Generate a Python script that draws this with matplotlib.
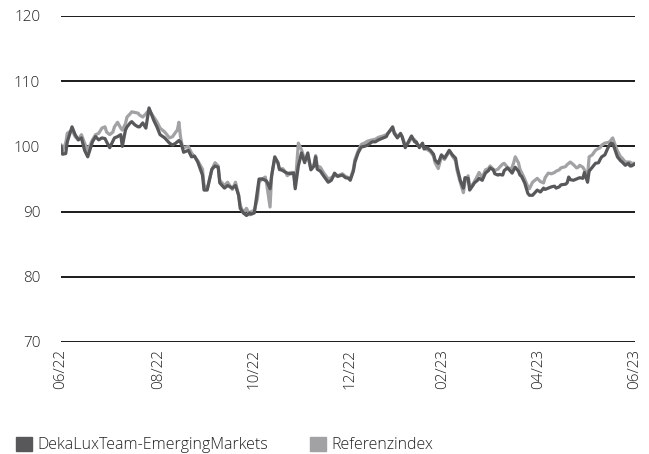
import matplotlib
matplotlib.use("Agg")
import matplotlib.pyplot as plt
from matplotlib.patches import Patch
import pandas as pd

# Tage seit dem 30.06.2022 und Werte (Start = 100)
days = [0, 1, 3, 4, 7, 9, 11, 13, 15, 17, 20, 22, 24, 26, 28, 29, 31, 33, 34, 36,
        38, 39, 41, 42, 44, 45, 47, 49, 50, 52, 54, 56, 59, 61, 63, 66, 69, 71, 73, 74,
        75, 76, 77, 78, 81, 83, 85, 87, 90, 91, 93, 96, 98, 100, 101, 104, 106, 109, 111, 113,
        114, 116, 118, 120, 121, 123, 125, 126, 128, 130, 131, 133, 134, 136, 138, 139, 141, 143, 144, 146,
        148, 149, 151, 153, 155, 157, 159, 161, 162, 163, 165, 167, 170, 172, 174, 176, 179, 181, 183, 184,
        186, 187, 189, 191, 193, 195, 198, 200, 202, 205, 207, 208, 211, 212, 214, 216, 217, 219, 221, 223,
        225, 226, 228, 230, 231, 233, 235, 237, 238, 240, 242, 244, 246, 247, 249, 251, 252, 254, 256, 257,
        259, 260, 262, 263, 265, 266, 268, 270, 272, 273, 275, 276, 278, 279, 281, 282, 284, 286, 287, 288,
        289, 291, 292, 293, 295, 297, 298, 300, 303, 305, 307, 308, 310, 312, 314, 315, 317, 318, 321, 322,
        323, 324, 326, 328, 329, 330, 332, 333, 335, 336, 338, 340, 342, 343, 344, 346, 348, 349, 350, 351,
        352, 354, 356, 357, 359, 361, 362, 363, 365]

fonds = [100, 98.8, 98.9, 100.7, 103, 101.8, 101, 101.3, 99.4, 98.4, 100.7, 101.5, 101, 101.3, 101.2, 100.7, 99.8, 100.8, 101.3, 101.5,
         101.8, 100, 102.5, 103, 103.6, 103.8, 103.3, 103, 103, 103.6, 102.8, 105.9, 104, 103, 101.8, 101.3, 100.5, 100.2, 100.5, 100.7,
         100.9, 100.7, 100, 99.1, 99.4, 98.4, 98.5, 97.6, 95.6, 93.3, 93.3, 96.5, 97, 96.8, 94.4, 93.6, 94, 93.6, 94, 92.5,
         90.5, 89.8, 89.4, 89.8, 89.6, 89.8, 93.3, 95, 95, 94.8, 94.6, 93.5, 95.5, 98.4, 97.5, 96.5, 96.3, 96, 95.9, 95.8,
         95.9, 93.5, 97, 99, 97.5, 99, 96.4, 97, 98.4, 96.5, 96.2, 95.5, 94.5, 94.8, 95.9, 95.4, 95.6, 95.2, 95.1, 94.8,
         96.2, 97.6, 99, 99.9, 100, 100.2, 100.7, 100.7, 101, 101.3, 101.5, 102, 103, 102, 101.3, 102, 101.5, 99.8, 100.7, 101.6,
         100.7, 100.7, 99.8, 100.5, 99.6, 99.8, 99.4, 98.8, 97.9, 97.4, 98.7, 98.2, 99, 99.4, 98.7, 98.2, 96.8, 94.8, 93.6, 95.2,
         95.1, 93.3, 94, 94.4, 94.8, 95.1, 94.8, 95.9, 96.3, 96.7, 96.4, 95.8, 95.6, 95.7, 95.6, 96.3, 96.7, 96.2, 95.9, 96.4,
         96.8, 96.2, 95.6, 95.4, 94.4, 92.8, 92.5, 92.5, 93.3, 93, 93.6, 93.4, 93.6, 93.8, 93.9, 93.6, 93.8, 94.1, 94.2, 94.4,
         95.3, 94.9, 94.8, 95, 95.1, 95.2, 95.1, 96, 94.5, 96.2, 96.8, 97.4, 97.5, 98, 98.4, 98.7, 99.8, 100.2, 100.5, 100.4,
         99.8, 98.4, 97.8, 97.6, 97.1, 97.4, 97, 97, 97.3]

referenz = [100.2, 99.5, 100.5, 102, 102.5, 101.5, 101, 101.8, 100.5, 99.4, 101, 101.8, 102, 102.8, 103, 102.2, 101.8, 102.2, 103, 103.7,
            102.8, 102.5, 103.5, 104.5, 105, 105.3, 105.2, 105.1, 104.8, 104.5, 105, 105.6, 104.5, 103.8, 102.8, 102.2, 101.3, 101.5, 102.2, 102.5,
            103.7, 101.5, 100.2, 99.8, 100, 99, 98.4, 97.8, 96.5, 94, 93.5, 96.5, 97.5, 97, 94.8, 94, 94.5, 93.4, 94.5, 92.5,
            91, 89.8, 90.5, 89.5, 90, 90.2, 92, 94.5, 95, 95.3, 94, 90.7, 95.5, 98.2, 97.5, 96.4, 96.6, 96, 95.5, 96,
            96, 94, 100.5, 99.5, 98, 98.5, 96.5, 97.3, 98.6, 97, 96.8, 96, 95, 95.2, 95.5, 95.5, 95.8, 95.4, 95.2, 95,
            96.5, 98, 99.3, 100.3, 100.5, 100.8, 101, 101.1, 101.4, 101.6, 101.8, 102, 102.8, 102.2, 101.5, 101.8, 101.5, 100.2, 100.5, 101.3,
            101, 100.5, 100, 100.3, 99.8, 99.5, 99.2, 98.5, 97.5, 96.6, 98.4, 98, 98.8, 99.3, 98.5, 97.8, 96.3, 94.5, 92.9, 94.5,
            95.5, 93.8, 94.2, 94.6, 95.5, 96, 95.2, 96.4, 96.6, 97, 96.5, 96.3, 96.5, 96.8, 97.3, 97.4, 96.8, 96.5, 96.8, 97.5,
            98.4, 97.5, 96.5, 96, 95, 93.8, 93.5, 94.5, 95.1, 94.6, 94.4, 95.2, 95.9, 95.8, 96, 96.2, 96.4, 96.7, 96.9, 97.2,
            97.4, 97.6, 97.2, 96.7, 96.8, 97.1, 96.8, 96.4, 95.5, 98.4, 98.7, 99.4, 99.7, 99.8, 100.2, 100.5, 100.6, 100.7, 101, 101.3,
            100.6, 99.3, 98.4, 98.2, 97.6, 97.6, 97.6, 97.4, 97.4]

y_ticks = [70, 80, 90, 100, 110, 120]
x_ticks = ["2022-06-30", "2022-08-31", "2022-10-31", "2022-12-31", "2023-02-28", "2023-04-30", "2023-06-30"]
x_labels = ["06/22", "08/22", "10/22", "12/22", "02/23", "04/23", "06/23"]
namen = ["DekaLuxTeam-EmergingMarkets", "Referenzindex"]
farben = ["#58585a", "#a2a2a4"]

plt.rcParams['font.family'] = ['Open Sans', 'DejaVu Sans']
plt.rcParams['font.weight'] = 'light'

datum = pd.Timestamp("2022-06-30") + pd.to_timedelta(days, unit="D")

fig = plt.figure(figsize=(6.49, 4.54), dpi=100)
ax = fig.add_axes([0.094, 0.2467, 0.884, 0.7181])

# Gitterlinien
for v in y_ticks:
    ax.axhline(v, color="#1a1a1a", lw=1.4, zorder=1)

ax.plot(datum, referenz, color=farben[1], lw=2.3, zorder=2)
ax.plot(datum, fonds, color=farben[0], lw=2.3, zorder=3)

ax.set_ylim(70, 120)
ax.set_xlim(pd.Timestamp(x_ticks[0]), pd.Timestamp(x_ticks[-1]))
ax.set_yticks(y_ticks)
ax.set_yticklabels([str(v) for v in y_ticks], fontsize=11, color="#222222")
ax.set_xticks(pd.to_datetime(x_ticks))
ax.set_xticklabels(x_labels, rotation=90, fontsize=11, color="#222222")
ax.tick_params(length=0, pad=5)
ax.tick_params(axis="y", pad=15)
for s in ax.spines.values():
    s.set_visible(False)

handles = [Patch(color=farben[0]), Patch(color=farben[1])]
fig.legend(handles, namen, loc="lower left", bbox_to_anchor=(0.01, -0.02), ncol=2,
           frameon=False, fontsize=11.5, handlelength=1.0, handleheight=1.0,
           handletextpad=0.35, columnspacing=2.6, borderaxespad=0.2)
for t in fig.legends[0].get_texts():
    t.set_color("#222222")

fig.savefig("out.png", dpi=100)
